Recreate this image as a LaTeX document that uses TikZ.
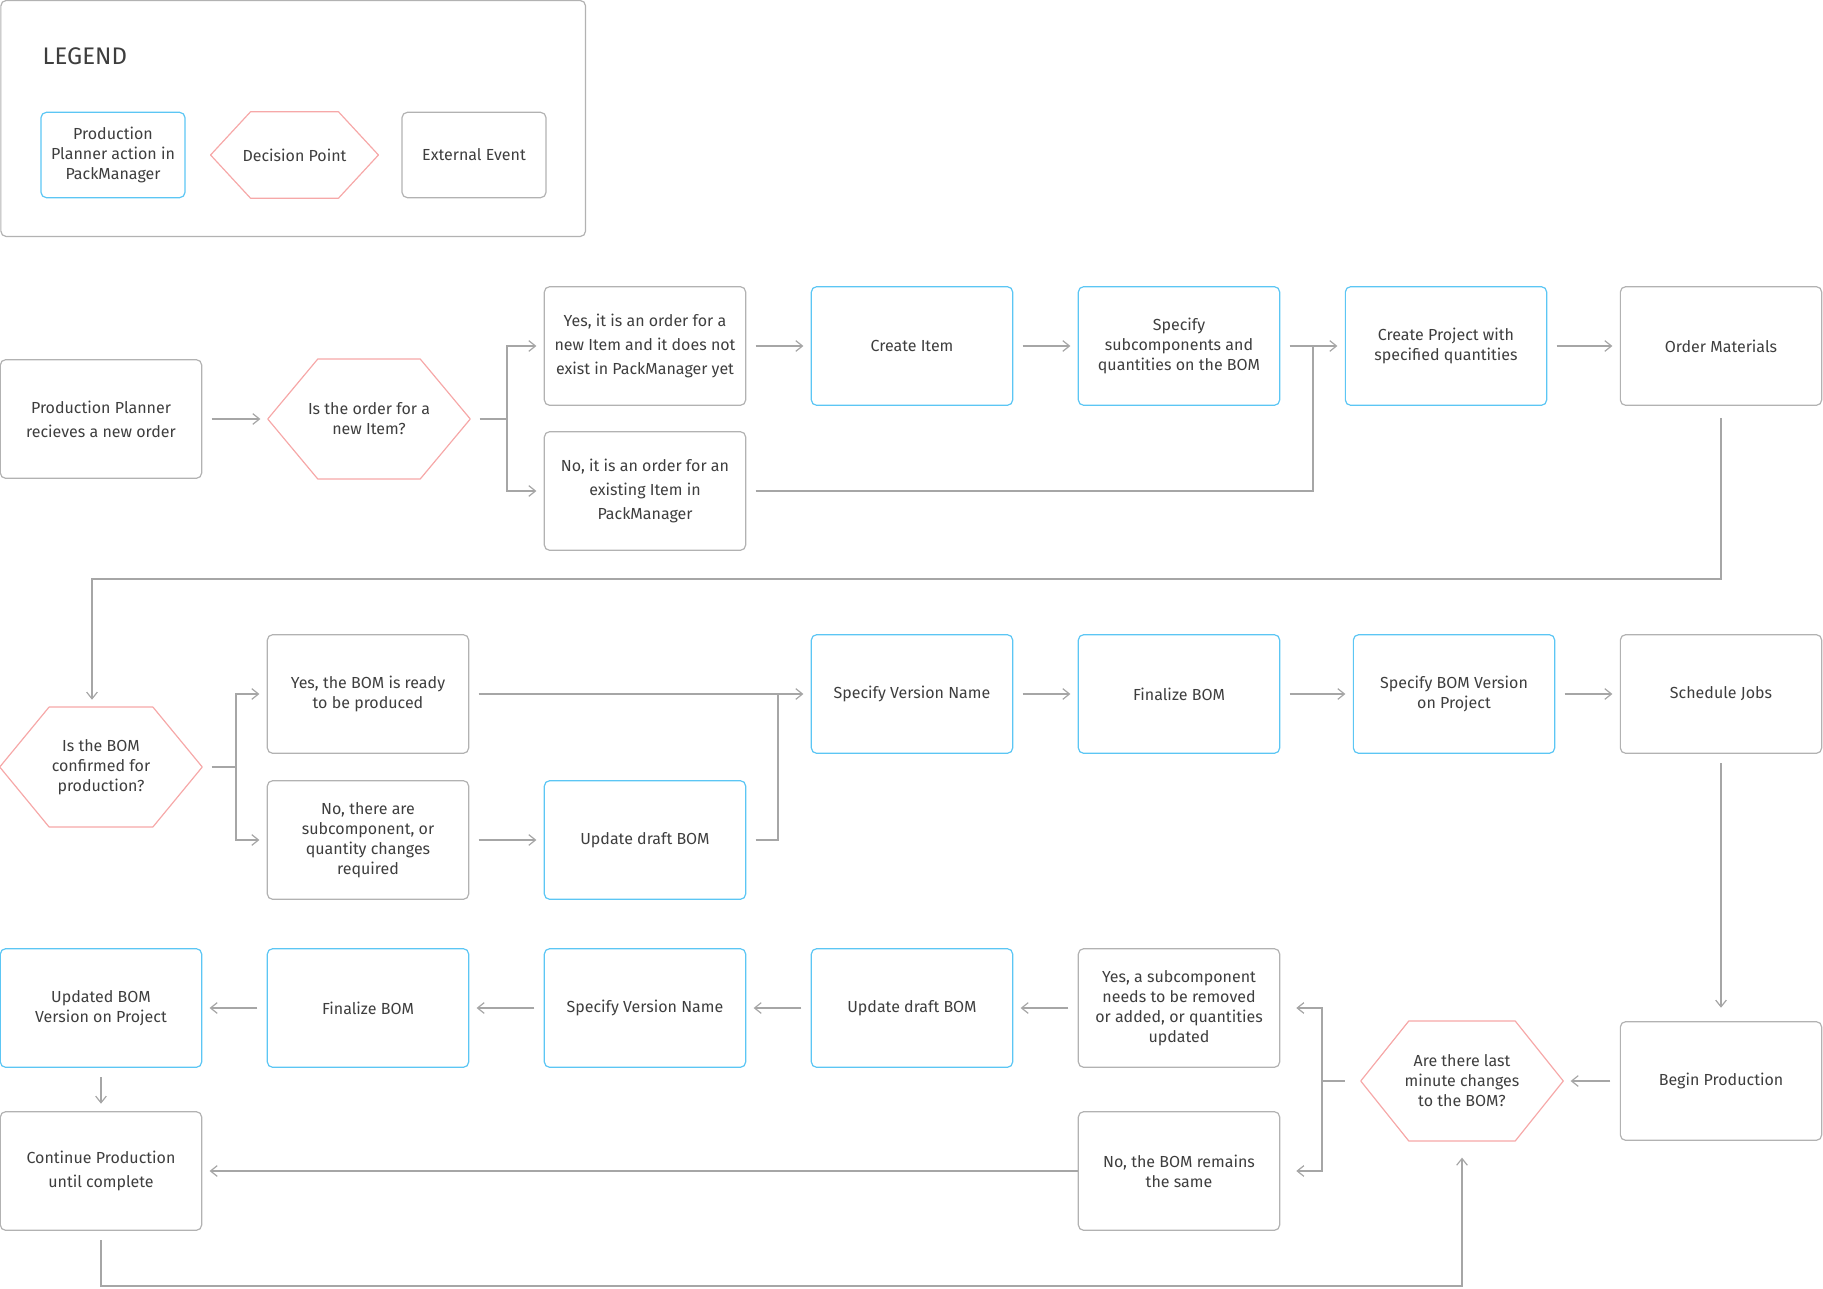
\documentclass[tikz,border=0pt]{standalone}
\usepackage{fontspec}
\setmainfont{Fira Sans}
\usetikzlibrary{arrows.meta}

\definecolor{planblue}{HTML}{5CC6F4}
\definecolor{decpink}{HTML}{F6A8A8}
\definecolor{extgray}{HTML}{B2B2B2}
\definecolor{linegray}{HTML}{A6A6A6}
\definecolor{inkgray}{HTML}{3E3E3E}

\tikzset{
  box/.style={draw, rounded corners=4pt, line width=0.9pt, minimum width=151pt,
    minimum height=89pt, inner sep=1pt, align=center, text=inkgray,
    font=\fontsize{12}{15}\selectfont},
  planner/.style={box, draw=planblue},
  external/.style={box, draw=extgray},
  decision/.style={box, draw=none},
  hexline/.style={draw=decpink, line width=0.9pt, line join=round},
  airy/.style={font=\fontsize{12}{18}\selectfont},
  flow/.style={draw=linegray, line width=0.9pt, shorten <=7pt, shorten >=5.5pt,
    -{Straight Barb[length=5pt,width=8pt]}},
  link/.style={draw=linegray, line width=1.2pt},
}

\begin{document}
\begin{tikzpicture}[x=0.75pt, y=-0.75pt]
    \useasboundingbox (0,0) rectangle (1823,1288);

    \node[external, minimum width=438.5pt, minimum height=177pt] (legend) at (293.2,118.5) {};
    \node[anchor=west, text=inkgray, font=\fontsize{18}{20}\selectfont] (legendtitle) at (38,56) {LEGEND};
    \node[planner, minimum width=108pt, minimum height=64pt] (lgplan) at (113,155) {Production\\Planner action in\\PackManager};
    \node[decision, minimum width=125pt, minimum height=64pt] (lgdec) at (294.5,155) {Decision Point};
    \node[external, minimum width=108pt, minimum height=64pt] (lgext) at (474,155) {External Event};

    \node[external, airy] (order) at (101,419) {Production Planner\\recieves a new order};
    \node[decision] (newitem) at (369,419) {Is the order for a\\new Item?};
    \node[external, airy] (yesnew) at (645,346) {Yes, it is an order for a\\new Item and it does not\\exist in PackManager yet};
    \node[external, airy] (noexist) at (645,491) {No, it is an order for an\\existing Item in\\PackManager};
    \node[planner] (createitem) at (912,346) {Create Item};
    \node[planner] (specsub) at (1179,346) {Specify\\subcomponents and\\quantities on the BOM};
    \node[planner] (createproj) at (1446,346) {Create Project with\\specified quantities};
    \node[external] (ordermat) at (1721,346) {Order Materials};

    \node[decision] (bomok) at (101,767) {Is the BOM\\confirmed for\\production?};
    \node[external] (bomyes) at (368,694) {Yes, the BOM is ready\\to be produced};
    \node[external] (bomno) at (368,840) {No, there are\\subcomponent, or\\quantity changes\\required};
    \node[planner] (upddraft) at (645,840) {Update draft BOM};
    \node[planner] (specver) at (912,694) {Specify Version Name};
    \node[planner] (finbom) at (1179,694) {Finalize BOM};
    \node[planner] (specproj) at (1454,694) {Specify BOM Version\\on Project};
    \node[external] (sched) at (1721,694) {Schedule Jobs};

    \node[planner] (updproj) at (101,1008) {Updated BOM\\Version on Project};
    \node[planner] (finlate) at (368,1008) {Finalize BOM};
    \node[planner] (speclate) at (645,1008) {Specify Version Name};
    \node[planner] (updlate) at (912,1008) {Update draft BOM};
    \node[external] (yessub) at (1179,1008) {Yes, a subcomponent\\needs to be removed\\or added, or quantities\\updated};
    \node[decision] (lastmin) at (1462,1081) {Are there last\\minute changes\\to the BOM?};
    \node[external] (begin) at (1721,1081) {Begin Production};
    \node[external] (nosame) at (1179,1171) {No, the BOM remains\\the same};
    \node[external, airy] (cont) at (101,1171) {Continue Production\\until complete};

    \foreach \hx/\cut in {lgdec/30pt, newitem/37.5pt, bomok/37pt, lastmin/36pt}
        \draw[hexline] ([xshift=\cut]\hx.north west) -- ([xshift=-\cut]\hx.north east)
            -- (\hx.east) -- ([xshift=-\cut]\hx.south east)
            -- ([xshift=\cut]\hx.south west) -- (\hx.west) -- cycle;

    \coordinate (fork1) at (507,419);
    \coordinate (join1) at (1313,346);
    \coordinate (drop1) at (92,579);
    \coordinate (fork2) at (236,767);
    \coordinate (join2) at (778,694);
    \coordinate (fork3) at (1322,1081);
    \coordinate (loop3) at (102,1286);

    \draw[flow] (order.east) -- (newitem.west);
    \draw[link, shorten <=7pt] (newitem.east) -- (fork1);
    \draw[flow, shorten <=0pt] (fork1) |- (yesnew.west);
    \draw[flow, shorten <=0pt] (fork1) |- (noexist.west);
    \draw[flow] (yesnew.east) -- (createitem.west);
    \draw[flow] (createitem.east) -- (specsub.west);
    \draw[flow] (specsub.east) -- (createproj.west);
    \draw[link, line width=0.9pt, shorten <=7pt] (noexist.east) -| (join1);
    \draw[flow] (createproj.east) -- (ordermat.west);
    \draw[flow, shorten <=9pt] (ordermat.south) |- (drop1) -- (drop1 |- bomok.north);

    \draw[link, shorten <=7pt] (bomok.east) -- (fork2);
    \draw[flow, shorten <=0pt] (fork2) |- (bomyes.west);
    \draw[flow, shorten <=0pt] (fork2) |- (bomno.west);
    \draw[flow] (bomyes.east) -- (specver.west);
    \draw[flow] (bomno.east) -- (upddraft.west);
    \draw[link, line width=0.9pt, shorten <=7pt] (upddraft.east) -| (join2);
    \draw[flow] (specver.east) -- (finbom.west);
    \draw[flow] (finbom.east) -- (specproj.west);
    \draw[flow] (specproj.east) -- (sched.west);
    \draw[flow, shorten >=10pt] (sched.south) -- (begin.north);

    \draw[flow] (begin.west) -- (lastmin.east);
    \draw[link, shorten <=12pt] (lastmin.west) -- (fork3);
    \draw[flow, shorten <=0pt, shorten >=12pt] (fork3) |- (yessub.east);
    \draw[flow, shorten <=0pt, shorten >=12pt] (fork3) |- (nosame.east);
    \draw[flow] (yessub.west) -- (updlate.east);
    \draw[flow] (updlate.west) -- (speclate.east);
    \draw[flow] (speclate.west) -- (finlate.east);
    \draw[flow] (finlate.west) -- (updproj.east);
    \draw[flow] (updproj.south) -- (cont.north);
    \draw[flow, shorten <=0pt] (nosame.west) -- (cont.east);
    \draw[flow, shorten <=7pt, shorten >=12.5pt] (cont.south) |- (loop3) -| (lastmin.south);
\end{tikzpicture}
\end{document}
